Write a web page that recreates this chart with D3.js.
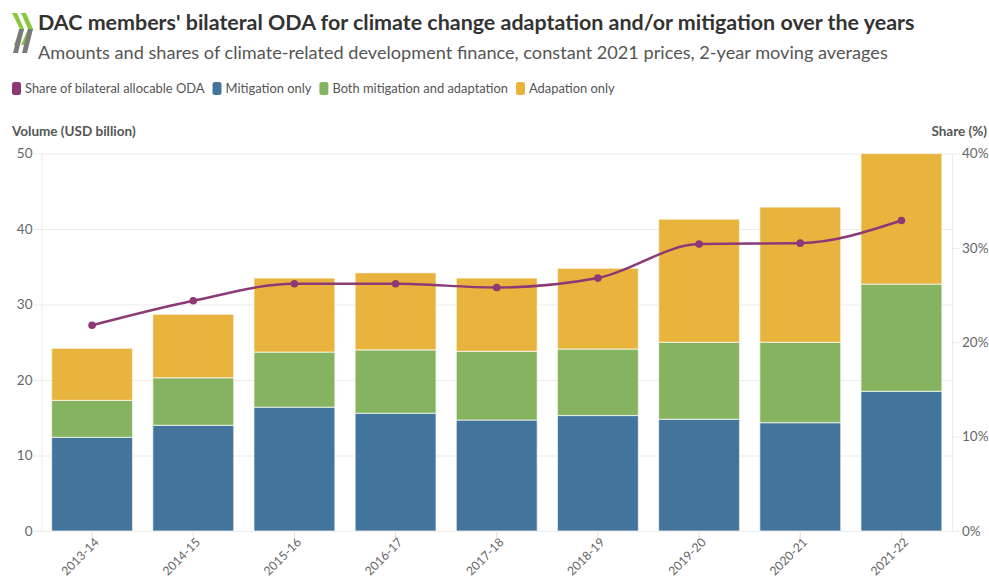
<!DOCTYPE html>
<html>
<head>
<meta charset="utf-8">
<script src="https://cdn.jsdelivr.net/npm/d3@7"></script>
<style>
  html, body { margin: 0; padding: 0; background: #fff; }
  svg { display: block; font-family: Lato, "Noto Sans", sans-serif; }
</style>
</head>
<body>
<svg id="chart" width="989" height="579"></svg>
<script>
// Periods (2-year moving averages)
const categories = ["2013-14", "2014-15", "2015-16", "2016-17", "2017-18", "2018-19", "2019-20", "2020-21", "2021-22"];
// Volumes, USD billion
const mitigationOnly = [12.4, 14.0, 16.4, 15.6, 14.7, 15.3, 14.8, 14.35, 18.5];
const bothMitigationAdaptation = [4.9, 6.3, 7.3, 8.4, 9.1, 8.8, 10.2, 10.65, 14.2];
const adaptationOnly = [6.9, 8.4, 9.8, 10.2, 9.7, 10.7, 16.3, 17.9, 17.3];
// Share of bilateral allocable ODA, %
const shareOfODA = [21.8, 24.4, 26.2, 26.2, 25.8, 26.8, 30.4, 30.5, 32.9];
const volumeTicks = [0, 10, 20, 30, 40, 50];
const shareTicks = [0, 10, 20, 30, 40];

const series = [
  { key: "mitigation", name: "Mitigation only", values: mitigationOnly, color: "#43759c" },
  { key: "both", name: "Both mitigation and adaptation", values: bothMitigationAdaptation, color: "#86b35f" },
  { key: "adaptation", name: "Adapation only", values: adaptationOnly, color: "#e8b43d" }
];
const lineColor = "#8b3a75";

const svg = d3.select("#chart");
const margin = { left: 41.5, right: 37, top: 153.5, bottom: 48 };
const W = 989, H = 579;

const x = d3.scaleBand().domain(categories).range([margin.left, W - margin.right]).paddingInner(0.2).paddingOuter(0.1);
const y = d3.scaleLinear().domain([0, 50]).range([H - margin.bottom, margin.top]);
const y2 = d3.scaleLinear().domain([0, 40]).range([H - margin.bottom, margin.top]);

// Header: logo, title, subtitle
const logo = svg.append("g").attr("transform", "translate(12,13)");
logo.append("path").attr("d", "M0,0 L5,0 L12,16 L7,32 L2,32 L8,16 Z").attr("fill", "#8cc63f");
logo.append("path").attr("d", "M9,0 L14,0 L21,16 L14,32 L9,32 L16,16 Z").attr("fill", "#8cc63f");
logo.append("path").attr("d", "M7,16 L12,16 L6,40 L1,40 Z").attr("fill", "#7a7a7a");
logo.append("path").attr("d", "M16,16 L21,16 L15,40 L10,40 Z").attr("fill", "#7a7a7a");

svg.append("text").attr("x", 38).attr("y", 30)
  .attr("font-size", 21.45).attr("font-weight", 700).attr("fill", "#333")
  .text("DAC members' bilateral ODA for climate change adaptation and/or mitigation over the years");
svg.append("text").attr("x", 38).attr("y", 59)
  .attr("font-size", 18.15).attr("fill", "#555")
  .text("Amounts and shares of climate-related development finance, constant 2021 prices, 2-year moving averages");

// Legend
const legendItems = [{ name: "Share of bilateral allocable ODA", color: lineColor }].concat(series);
const legend = svg.append("g").attr("transform", "translate(12,89)");
let lx = 0;
legendItems.forEach(d => {
  const g = legend.append("g").attr("transform", `translate(${lx},0)`);
  g.append("rect").attr("x", 0).attr("y", -7).attr("width", 9).attr("height", 13).attr("rx", 2.5).attr("fill", d.color);
  const t = g.append("text").attr("x", 13).attr("y", 4).attr("font-size", 12.9).attr("fill", "#555").text(d.name);
  lx += 13 + t.node().getComputedTextLength() + 8;
});

// Axis titles
svg.append("text").attr("x", 12).attr("y", 136).attr("font-size", 13.5).attr("font-weight", 700).attr("fill", "#555").text("Volume (USD billion)");
svg.append("text").attr("x", 987).attr("y", 136).attr("text-anchor", "end").attr("font-size", 13.5).attr("font-weight", 700).attr("fill", "#555").text("Share (%)");

// Gridlines
svg.append("g").selectAll("line").data(volumeTicks).join("line")
  .attr("x1", margin.left - 8).attr("x2", W - margin.right)
  .attr("y1", d => y(d) + 0.5).attr("y2", d => y(d) + 0.5)
  .attr("stroke", "#ebebeb").attr("stroke-width", 1);
// Right ticks
svg.append("g").selectAll("line").data(shareTicks).join("line")
  .attr("x1", W - margin.right).attr("x2", W - margin.right + 8)
  .attr("y1", d => y2(d) + 0.5).attr("y2", d => y2(d) + 0.5)
  .attr("stroke", "#ebebeb");
// Frame sides
[margin.left, W - margin.right].forEach(px => {
  svg.append("line").attr("x1", px + 0.5).attr("x2", px + 0.5).attr("y1", margin.top).attr("y2", H - margin.bottom)
    .attr("stroke", "#ebebeb");
});

// Left axis labels
const yAxis = d3.axisLeft(y).tickValues(volumeTicks).tickSize(0).tickPadding(9);
svg.append("g").attr("transform", `translate(${margin.left},0)`).call(yAxis)
  .call(g => g.select(".domain").remove())
  .call(g => g.selectAll("text").attr("font-size", 13.5).attr("fill", "#666").attr("font-family", "Lato, sans-serif"));
// Right axis labels
const y2Axis = d3.axisRight(y2).tickValues(shareTicks).tickFormat(d => d + "%").tickSize(0).tickPadding(10);
svg.append("g").attr("transform", `translate(${W - margin.right},0)`).call(y2Axis)
  .call(g => g.select(".domain").remove())
  .call(g => g.selectAll("text").attr("font-size", 13.5).attr("fill", "#666").attr("font-family", "Lato, sans-serif"));

// Stacked bars
const rows = categories.map((c, i) => {
  const r = { category: c };
  series.forEach(s => r[s.key] = s.values[i]);
  return r;
});
const stack = d3.stack().keys(series.map(s => s.key))(rows);
svg.append("g").selectAll("g").data(stack).join("g")
  .attr("fill", (d, i) => series[i].color)
  .selectAll("rect").data(d => d).join("rect")
  .attr("x", d => x(d.data.category))
  .attr("width", x.bandwidth())
  .attr("y", d => y(d[1]))
  .attr("height", d => y(d[0]) - y(d[1]))
  .attr("stroke", "rgba(255,255,255,0.6)").attr("stroke-width", 1.2);

// Bottom axis
const xAxis = d3.axisBottom(x).tickSize(6).tickSizeOuter(0);
svg.append("g").attr("transform", `translate(0,${H - margin.bottom + 1})`).call(xAxis)
  .call(g => g.select(".domain").remove())
  .call(g => g.selectAll(".tick line").attr("stroke", "#ddd"))
  .call(g => g.selectAll("text")
    .attr("font-size", 12.2).attr("fill", "#666").attr("font-family", "Lato, sans-serif")
    .attr("text-anchor", "end").attr("dx", "-0.2em").attr("dy", "0.35em")
    .attr("transform", "rotate(-45)"));

// Share line
const line = d3.line()
  .x((d, i) => x(categories[i]) + x.bandwidth() / 2)
  .y(d => y2(d))
  .curve(d3.curveMonotoneX);
svg.append("path").datum(shareOfODA).attr("d", line)
  .attr("fill", "none").attr("stroke", lineColor).attr("stroke-width", 2.5);
svg.append("g").selectAll("circle").data(shareOfODA).join("circle")
  .attr("cx", (d, i) => x(categories[i]) + x.bandwidth() / 2)
  .attr("cy", d => y2(d)).attr("r", 3.8).attr("fill", lineColor);
</script>
</body>
</html>
